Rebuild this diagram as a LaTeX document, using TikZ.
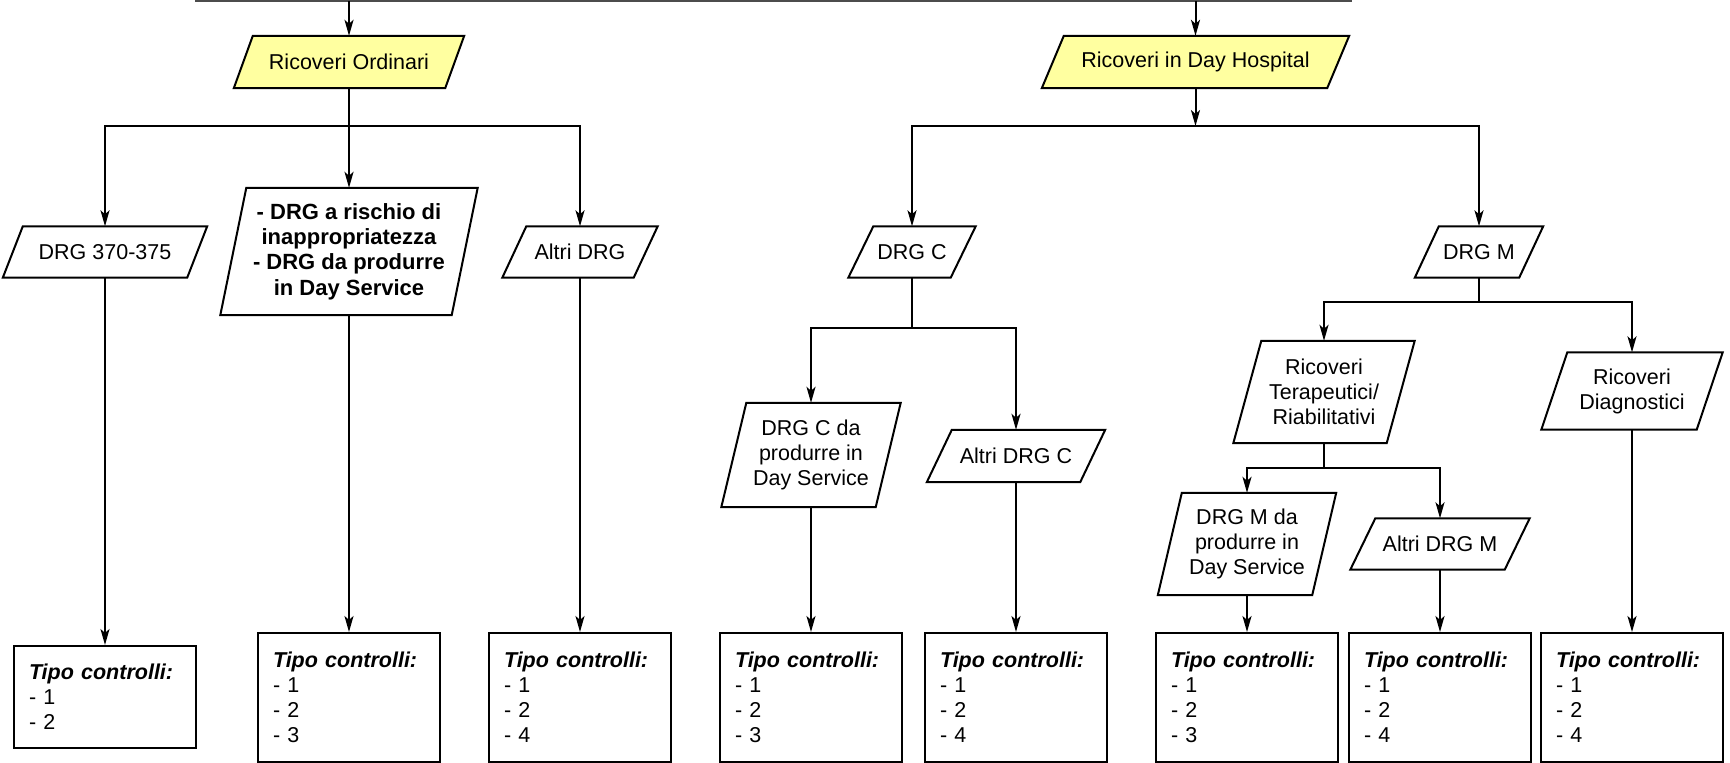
\documentclass[tikz,border=0pt]{standalone}
\usepackage{fontspec}
\setmainfont{Liberation Sans}
\usetikzlibrary{arrows.meta}
\pgfdeclarelayer{bg}
\pgfsetlayers{bg,main}
\definecolor{boxyellow}{RGB}{255,255,160}
\tikzset{
  txt/.style={font=\fontsize{21.5}{25}\selectfont},
  para/.style={rectangle, draw=none, inner sep=0pt, align=center, txt},
  tipo/.style={rectangle, draw, line width=2pt, fill=white, text width=152pt,
    align=left, inner xsep=15pt, inner ysep=0pt, txt},
  conn/.style={line width=2pt},
  arr/.style={conn, -{Stealth[length=16pt,width=9pt,inset=4pt]}},
  frame/.style={line width=2pt},
  shade/.style={fill=black!35}
}
\newcommand\paraframe[3]{%
  \fill[shade, xshift=2.5pt, yshift=-2.5pt] (#1.south west) -- ([xshift=#2pt]#1.north west) -- (#1.north east) -- ([xshift=-#2pt]#1.south east) -- cycle;
  \filldraw[frame, fill=#3] (#1.south west) -- ([xshift=#2pt]#1.north west) -- (#1.north east) -- ([xshift=-#2pt]#1.south east) -- cycle;}
\newcommand\tipoframe[1]{%
  \fill[shade, xshift=2.5pt, yshift=-2.5pt] (#1.south west) rectangle (#1.north east);}
\begin{document}
\begin{tikzpicture}[x=1pt, y=-1pt]
\useasboundingbox (0,0) rectangle (1730,763);

% top line
\coordinate (tl) at (195,1);
\coordinate (tr) at (1352,1);
\coordinate (ta) at (349,1);
\coordinate (tb) at (1195.5,1);
\draw[line width=2pt, black!70] (tl) -- (tr);

% parallelograms
\node[para, minimum width=230pt, minimum height=52pt] (ro) at (349,62) {Ricoveri Ordinari};
\node[para, minimum width=307pt, minimum height=52pt] (rdh) at (1195.5,62) {Ricoveri in Day Hospital};
\node[para, minimum width=204pt, minimum height=51pt] (d370) at (105,252) {DRG 370-375};
\node[para, minimum width=257pt, minimum height=127pt, font=\bfseries\fontsize{22}{25.4}\selectfont] (mid) at (349,251.5) {- DRG a rischio di\\inappropriatezza\\- DRG da produrre\\in Day Service};
\node[para, minimum width=155pt, minimum height=51pt] (altri) at (580,252) {Altri DRG};
\node[para, minimum width=127pt, minimum height=51pt] (drgc) at (912,252) {DRG C};
\node[para, minimum width=128pt, minimum height=51pt] (drgm) at (1479,252) {DRG M};
\node[para, minimum width=179pt, minimum height=104pt] (cds) at (811,455) {DRG C da\\produrre in\\Day Service};
\node[para, minimum width=178pt, minimum height=52pt] (altric) at (1016,456) {Altri DRG C};
\node[para, minimum width=181pt, minimum height=102pt] (ter) at (1324,392) {Ricoveri\\Terapeutici/\\Riabilitativi};
\node[para, minimum width=181pt, minimum height=77pt] (diag) at (1632,391) {Ricoveri\\Diagnostici};
\node[para, minimum width=178pt, minimum height=102pt] (mds) at (1247,544) {DRG M da\\produrre in\\Day Service};
\node[para, minimum width=179pt, minimum height=51pt] (altrim) at (1440,544) {Altri DRG M};

% Tipo controlli boxes
\node[tipo, minimum height=102pt] (t1) at (105,697) {\textbf{\textit{Tipo controlli:}}\\- 1\\- 2};
\node[tipo, minimum height=129pt] (t2) at (349,697.5) {\textbf{\textit{Tipo controlli:}}\\- 1\\- 2\\- 3};
\node[tipo, minimum height=129pt] (t3) at (580,697.5) {\textbf{\textit{Tipo controlli:}}\\- 1\\- 2\\- 4};
\node[tipo, minimum height=129pt] (t4) at (811,697.5) {\textbf{\textit{Tipo controlli:}}\\- 1\\- 2\\- 3};
\node[tipo, minimum height=129pt] (t5) at (1016,697.5) {\textbf{\textit{Tipo controlli:}}\\- 1\\- 2\\- 4};
\node[tipo, minimum height=129pt] (t6) at (1247,697.5) {\textbf{\textit{Tipo controlli:}}\\- 1\\- 2\\- 3};
\node[tipo, minimum height=129pt] (t7) at (1440,697.5) {\textbf{\textit{Tipo controlli:}}\\- 1\\- 2\\- 4};
\node[tipo, minimum height=129pt] (t8) at (1632,697.5) {\textbf{\textit{Tipo controlli:}}\\- 1\\- 2\\- 4};

\begin{pgfonlayer}{bg}
\paraframe{ro}{19}{boxyellow}
\paraframe{rdh}{22}{boxyellow}
\paraframe{d370}{20}{white}
\paraframe{mid}{26}{white}
\paraframe{altri}{24}{white}
\paraframe{drgc}{25}{white}
\paraframe{drgm}{24}{white}
\paraframe{cds}{25}{white}
\paraframe{altric}{25}{white}
\paraframe{ter}{28}{white}
\paraframe{diag}{26}{white}
\paraframe{mds}{24}{white}
\paraframe{altrim}{25}{white}
\tipoframe{t1}\tipoframe{t2}\tipoframe{t3}\tipoframe{t4}
\tipoframe{t5}\tipoframe{t6}\tipoframe{t7}\tipoframe{t8}
\end{pgfonlayer}

% junction coordinates
\coordinate (jo) at (349,126);
\coordinate (jdh) at (1195.5,126);
\coordinate (jc) at (912,328);
\coordinate (jm) at (1479,302);
\coordinate (jt) at (1324,468);

% connectors
\draw[arr] (ta) -- (ro.north);
\draw[arr] (tb) -- (rdh.north);

\draw[arr] (ro.south) -- (mid.north);
\draw[arr] (jo) -| (d370.north);
\draw[arr] (jo) -| (altri.north);

\draw[arr] (rdh.south) -- (jdh);
\draw[arr] (jdh) -| (drgc.north);
\draw[arr] (jdh) -| (drgm.north);

\draw[conn] (drgc.south) -- (jc);
\draw[arr] (jc) -| (cds.north);
\draw[arr] (jc) -| (altric.north);

\draw[conn] (drgm.south) -- (jm);
\draw[arr] (jm) -| (ter.north);
\draw[arr] (jm) -| (diag.north);

\draw[conn] (ter.south) -- (jt);
\draw[arr] (jt) -| (mds.north);
\draw[arr] (jt) -| (altrim.north);

\draw[arr] (d370.south) -- (t1.north);
\draw[arr] (mid.south) -- (t2.north);
\draw[arr] (altri.south) -- (t3.north);
\draw[arr] (cds.south) -- (t4.north);
\draw[arr] (altric.south) -- (t5.north);
\draw[arr] (mds.south) -- (t6.north);
\draw[arr] (altrim.south) -- (t7.north);
\draw[arr] (diag.south) -- (t8.north);
\end{tikzpicture}
\end{document}
